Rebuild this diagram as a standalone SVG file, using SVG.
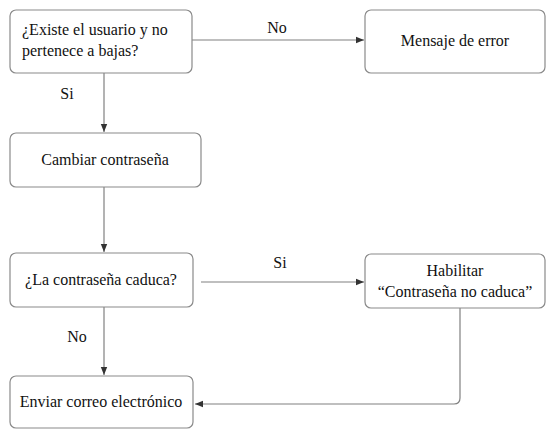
<svg xmlns="http://www.w3.org/2000/svg" width="546" height="430" viewBox="0 0 546 430">
  <style>
    .box { fill: #ffffff; stroke: #8a8a8a; stroke-width: 1.2; }
    .lbl { font-family: "Liberation Serif", "Times New Roman", "DejaVu Serif", serif; font-size: 16px; fill: #111111; }
    .edge { fill: none; stroke: #808080; stroke-width: 1.2; }
  </style>
  <defs>
    <marker id="arrow" viewBox="0 0 10 10" refX="10" refY="5" markerWidth="8" markerHeight="8" markerUnits="userSpaceOnUse" orient="auto">
      <path d="M0,1 L10,5 L0,9 Z" fill="#333333"/>
    </marker>
  </defs>
  <rect width="546" height="430" fill="#ffffff"/>

  <!-- flow arrows and their branch labels -->
  <g id="connectors">
    <path class="edge" d="M192,40 H364" marker-end="url(#arrow)"/>
    <text class="lbl" x="277" y="33" text-anchor="middle">No</text>
    <path class="edge" d="M104,73 V132" marker-end="url(#arrow)"/>
    <text class="lbl" x="67" y="99" text-anchor="middle">Si</text>
    <path class="edge" d="M104,187 V252" marker-end="url(#arrow)"/>
    <path class="edge" d="M201,282 H364" marker-end="url(#arrow)"/>
    <text class="lbl" x="280" y="268" text-anchor="middle">Si</text>
    <path class="edge" d="M104,307 V375" marker-end="url(#arrow)"/>
    <text class="lbl" x="77" y="342" text-anchor="middle">No</text>
    <path class="edge" d="M460,308 V398 Q460,404 454,404 H195" marker-end="url(#arrow)"/>
  </g>

  <g id="existe-usuario">
    <rect class="box" x="10" y="10" width="182" height="63" rx="6"/>
    <text class="lbl" x="22" y="35">¿Existe el usuario y no</text>
    <text class="lbl" x="22" y="56">pertenece a bajas?</text>
  </g>
  <g id="mensaje-error">
    <rect class="box" x="365" y="10" width="180" height="63" rx="6"/>
    <text class="lbl" x="455" y="46" text-anchor="middle">Mensaje de error</text>
  </g>
  <g id="cambiar-contrasena">
    <rect class="box" x="10" y="133" width="191" height="54" rx="6"/>
    <text class="lbl" x="105" y="165" text-anchor="middle">Cambiar contraseña</text>
  </g>
  <g id="contrasena-caduca">
    <rect class="box" x="10" y="253" width="183" height="54" rx="6"/>
    <text class="lbl" x="101" y="285" text-anchor="middle">¿La contraseña caduca?</text>
  </g>
  <g id="habilitar">
    <rect class="box" x="365" y="254" width="180" height="54" rx="6"/>
    <text class="lbl" x="455" y="276" text-anchor="middle">Habilitar</text>
    <text class="lbl" x="455" y="297" text-anchor="middle">“Contraseña no caduca”</text>
  </g>
  <g id="enviar-correo">
    <rect class="box" x="10" y="376" width="183" height="52" rx="6"/>
    <text class="lbl" x="101" y="407" text-anchor="middle">Enviar correo electrónico</text>
  </g>
</svg>
